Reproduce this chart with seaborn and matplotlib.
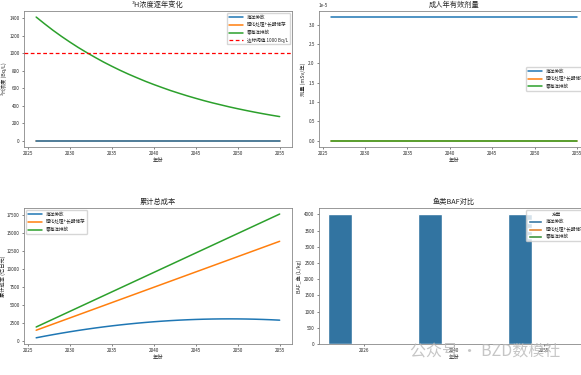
import matplotlib
matplotlib.use("Agg")
import matplotlib.pyplot as plt
import seaborn as sns
import pandas as pd

# 数据
years = list(range(2026, 2056))
scenarios = ["海洋排放", "强化处理+长期储存", "零海洋排放"]

# ³H 浓度 (Bq/L)
conc_ocean = [1, 1, 1, 1, 1, 1, 1, 1, 1, 1, 1, 1, 1, 1, 1,
              1, 1, 1, 1, 1, 1, 1, 1, 1, 1, 1, 1, 1, 1, 1]
conc_store = [0, 0, 0, 0, 0, 0, 0, 0, 0, 0, 0, 0, 0, 0, 0,
              0, 0, 0, 0, 0, 0, 0, 0, 0, 0, 0, 0, 0, 0, 0]
conc_zero = [1415, 1338, 1264, 1195, 1130, 1068, 1010, 955, 902, 853,
             806, 762, 721, 681, 644, 609, 575, 544, 514, 486,
             459, 434, 411, 388, 367, 347, 328, 310, 293, 277]
threshold = 1000

# 成人年有效剂量 (mSv/年)
dose_ocean = [3.2e-5] * 30
dose_store = [0.0] * 30
dose_zero = [0.0] * 30

# 累计总成本 (亿日元)
cost_ocean = [500, 724, 937, 1141, 1335, 1519, 1693, 1857, 2011, 2155,
              2289, 2413, 2527, 2632, 2726, 2811, 2885, 2950, 3004, 3049,
              3084, 3109, 3124, 3129, 3124, 3109, 3084, 3049, 3005, 2950]
cost_store = [1550, 1976, 2402, 2828, 3254, 3680, 4106, 4532, 4958, 5384,
              5810, 6236, 6662, 7088, 7514, 7940, 8366, 8792, 9218, 9644,
              10070, 10496, 10922, 11348, 11774, 12200, 12626, 13052, 13478, 13904]
cost_zero = [2000, 2541, 3082, 3623, 4164, 4705, 5246, 5787, 6328, 6869,
             7410, 7951, 8492, 9033, 9574, 10115, 10656, 11197, 11738, 12279,
             12820, 13361, 13902, 14443, 14984, 15525, 16066, 16607, 17148, 17689]

# 鱼类 BAF (L/kg)
baf_years = ["2026", "2040", "2055"]
baf_ocean = [4000, 4000, 4000]
baf_store = [0, 0, 0]
baf_zero = [0, 0, 0]

sns.set_style("ticks")
plt.rcParams["font.family"] = ["Noto Sans CJK SC", "DejaVu Sans"]
plt.rcParams["axes.unicode_minus"] = False
plt.rcParams["xtick.labelsize"] = 3.3
plt.rcParams["ytick.labelsize"] = 3.3
plt.rcParams["xtick.major.size"] = 1.5
plt.rcParams["ytick.major.size"] = 1.5
plt.rcParams["xtick.major.width"] = 0.4
plt.rcParams["ytick.major.width"] = 0.4
plt.rcParams["axes.linewidth"] = 0.6
plt.rcParams["axes.edgecolor"] = "#888888"

colors = sns.color_palette("tab10", 3)
lw = 1.1
title_fs = 5.2
label_fs = 3.8
legend_fs = 3.3

fig = plt.figure(figsize=(5.81, 3.75), dpi=100)
ax1 = fig.add_axes([0.0413, 0.608, 0.461, 0.363])
ax2 = fig.add_axes([0.549, 0.608, 0.465, 0.363])
ax3 = fig.add_axes([0.0413, 0.0827, 0.461, 0.363])
ax4 = fig.add_axes([0.549, 0.0827, 0.465, 0.363])


def draw_lines(ax, series):
    for i, (name, vals) in enumerate(zip(scenarios, series)):
        sns.lineplot(x=years, y=vals, ax=ax, color=colors[i], lw=lw, label=name,
                     zorder=1.5 if i == 1 else 2)


# 1. ³H 浓度
draw_lines(ax1, [conc_ocean, conc_store, conc_zero])
ax1.axhline(threshold, color="#ff0000", ls=(0, (3, 2)), lw=0.9,
            label=f"达标阈值 {threshold} Bq/L", zorder=3)
ax1.set_title("³H浓度逐年变化", fontsize=title_fs, pad=3)
ax1.set_xlabel("年份", fontsize=label_fs, labelpad=1)
ax1.set_ylabel("³H浓度 (Bq/L)", fontsize=label_fs, labelpad=1.5)
ax1.legend(loc="upper right", fontsize=legend_fs, handlelength=3)

# 2. 成人年有效剂量
draw_lines(ax2, [dose_ocean, dose_store, dose_zero])
ax2.set_title("成人年有效剂量", fontsize=title_fs, pad=3)
ax2.set_xlabel("年份", fontsize=label_fs, labelpad=1)
ax2.set_ylabel("剂量 (mSv/年)", fontsize=label_fs, labelpad=1.5)
ax2.yaxis.get_offset_text().set_fontsize(3.3)
ax2.legend(loc="center right", fontsize=legend_fs, handlelength=3)

# 3. 累计总成本
draw_lines(ax3, [cost_ocean, cost_store, cost_zero])
ax3.set_title("累计总成本", fontsize=title_fs, pad=3)
ax3.set_xlabel("年份", fontsize=label_fs, labelpad=1)
ax3.set_ylabel("累计成本 (亿日元)", fontsize=label_fs, labelpad=0.5)
ax3.legend(loc="upper left", fontsize=legend_fs, handlelength=3)

for ax in (ax1, ax2, ax3):
    ax.tick_params(pad=1.5)

# 4. 鱼类 BAF 对比
baf_df = pd.DataFrame({
    "年份": baf_years * 3,
    "BAF": baf_ocean + baf_store + baf_zero,
    "方案": [s for s in scenarios for _ in baf_years],
})
sns.barplot(data=baf_df, x="年份", y="BAF", hue="方案", palette="tab10", ax=ax4)
ax4.set_title("鱼类BAF对比", fontsize=title_fs, pad=3)
ax4.set_xlabel("年份", fontsize=label_fs, labelpad=1)
ax4.set_ylabel("BAF_鱼 (L/kg)", fontsize=label_fs, labelpad=1.5)
ax4.tick_params(pad=1.5)
ax4.legend(title="方案", loc="upper right", fontsize=legend_fs,
           title_fontsize=legend_fs, handlelength=3)

# 水印
fig.text(0.705, 0.06, "公众号 · BZD数模社", fontsize=11.5, color="#b8b8b8",
         alpha=0.8, ha="left", va="center")

plt.savefig("out.png", dpi=100)
plt.close()
